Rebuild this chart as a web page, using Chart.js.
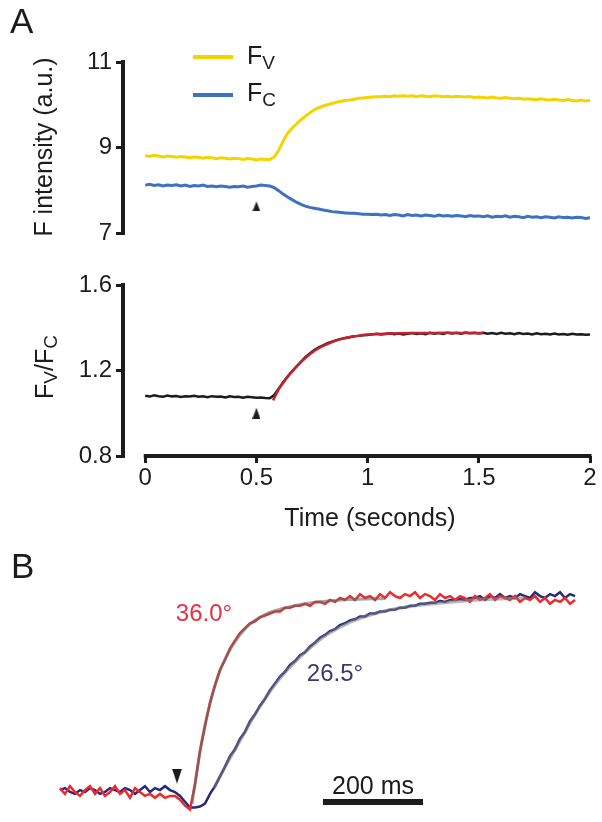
<!DOCTYPE html>
<html><head><meta charset="utf-8">
<script src="https://cdn.jsdelivr.net/npm/chart.js@4.4.0/dist/chart.umd.min.js"></script>
<style>
html,body{margin:0;padding:0;background:#fff;}
#wrap{position:relative;width:602px;height:822px;overflow:hidden;background:#fff;}
canvas{position:absolute;left:0;top:0;}
</style></head>
<body><div id="wrap">
<canvas id="cA1" width="602" height="822"></canvas>
<canvas id="cA2" width="602" height="822"></canvas>
<canvas id="cB" width="602" height="822"></canvas>
</div>
<script>
// ---------- Panel A data (time in seconds) ----------
const timeA = [
 0,0.02,0.04,0.06,0.08,0.1,0.12,0.14,0.16,0.18,
 0.2,0.22,0.24,0.26,0.28,0.3,0.32,0.34,0.36,0.38,
 0.4,0.42,0.44,0.46,0.48,0.5,0.52,0.54,0.56,0.58,
 0.6,0.62,0.64,0.66,0.68,0.7,0.72,0.74,0.76,0.78,
 0.8,0.82,0.84,0.86,0.88,0.9,0.92,0.94,0.96,0.98,
 1,1.02,1.04,1.06,1.08,1.1,1.12,1.14,1.16,1.18,
 1.2,1.22,1.24,1.26,1.28,1.3,1.32,1.34,1.36,1.38,
 1.4,1.42,1.44,1.46,1.48,1.5,1.52,1.54,1.56,1.58,
 1.6,1.62,1.64,1.66,1.68,1.7,1.72,1.74,1.76,1.78,
 1.8,1.82,1.84,1.86,1.88,1.9,1.92,1.94,1.96,1.98,
 2];
const fvValues = [
 8.81,8.79,8.82,8.80,8.78,8.80,8.79,8.77,8.79,8.78,
 8.76,8.78,8.77,8.75,8.77,8.76,8.74,8.76,8.75,8.73,
 8.75,8.74,8.72,8.74,8.73,8.71,8.73,8.72,8.72,8.78,
 8.93,9.15,9.33,9.45,9.55,9.65,9.73,9.81,9.88,9.93,
 9.97,10.00,10.03,10.06,10.08,10.10,10.11,10.13,10.15,10.16,
 10.17,10.18,10.19,10.19,10.20,10.19,10.21,10.20,10.21,10.20,
 10.21,10.19,10.21,10.20,10.19,10.21,10.20,10.19,10.20,10.18,
 10.20,10.19,10.18,10.19,10.17,10.18,10.17,10.16,10.18,10.16,
 10.15,10.17,10.15,10.14,10.15,10.13,10.14,10.13,10.12,10.14,
 10.12,10.11,10.13,10.11,10.10,10.12,10.10,10.09,10.11,10.09,
 10.10];
const fcValues = [
 8.12,8.14,8.11,8.13,8.10,8.12,8.11,8.13,8.10,8.12,
 8.09,8.11,8.10,8.12,8.09,8.10,8.08,8.10,8.09,8.07,
 8.09,8.08,8.10,8.07,8.09,8.10,8.12,8.11,8.10,8.06,
 7.99,7.91,7.84,7.78,7.72,7.67,7.63,7.60,7.58,7.56,
 7.54,7.52,7.50,7.49,7.48,7.47,7.46,7.46,7.45,7.44,
 7.44,7.43,7.44,7.42,7.43,7.41,7.43,7.42,7.40,7.43,
 7.41,7.42,7.40,7.42,7.41,7.39,7.42,7.40,7.41,7.39,
 7.41,7.40,7.38,7.41,7.39,7.40,7.38,7.40,7.37,7.39,
 7.38,7.40,7.37,7.39,7.38,7.36,7.39,7.37,7.38,7.36,
 7.38,7.37,7.35,7.38,7.36,7.37,7.35,7.37,7.36,7.34,
 7.36];
const ratioValues = [
 1.082,1.078,1.084,1.080,1.077,1.083,1.079,1.081,1.076,1.080,
 1.078,1.082,1.077,1.079,1.075,1.080,1.077,1.078,1.074,1.079,
 1.076,1.077,1.073,1.077,1.075,1.072,1.074,1.071,1.070,1.085,
 1.115,1.145,1.172,1.196,1.218,1.240,1.262,1.280,1.296,1.308,
 1.318,1.328,1.335,1.342,1.348,1.352,1.356,1.360,1.362,1.365,
 1.366,1.369,1.372,1.368,1.371,1.374,1.370,1.373,1.369,1.372,
 1.375,1.371,1.374,1.370,1.376,1.372,1.375,1.371,1.377,1.373,
 1.376,1.372,1.378,1.374,1.376,1.373,1.377,1.372,1.375,1.371,
 1.376,1.372,1.374,1.370,1.375,1.371,1.373,1.369,1.374,1.370,
 1.372,1.368,1.373,1.369,1.371,1.367,1.372,1.368,1.370,1.367,
 1.369];
const ratioFitTime = [0.575,0.6,0.62,0.64,0.66,0.68,0.7,0.72,0.74,0.76,0.78,0.8,0.84,0.88,0.92,0.96,1.0,1.05,1.1,1.2,1.3,1.4,1.52];
const ratioFitValues = [1.06,1.112,1.142,1.170,1.195,1.218,1.239,1.258,1.276,1.291,1.304,1.315,1.333,1.347,1.357,1.363,1.368,1.371,1.373,1.375,1.376,1.376,1.376];
const stimTime = 0.5;          // arrowhead position (s)
const arrowTopValue = 7.62;    // arrowhead level, top panel
const arrowBottomValue = 1.0;  // arrowhead level, bottom panel

const xTicksA = [0, 0.5, 1, 1.5, 2];
const xTickLabelsA = ['0', '0.5', '1', '1.5', '2'];
const yTicksTop = [7, 9, 11];
const yTickLabelsTop = ['7', '9', '11'];
const yTicksBottom = [0.8, 1.2, 1.6];
const yTickLabelsBottom = ['0.8', '1.2', '1.6'];

// ---------- Panel B data (time in ms, normalised signal) ----------
const timeB = [
 -230,-220,-210,-200,-190,-180,-170,-160,-150,-140,
 -130,-120,-110,-100,-90,-80,-70,-60,-50,-40,
 -30,-20,-10,0,10,20,30,40,50,60,
 70,80,90,100,110,120,130,140,150,160,
 170,180,190,200,210,220,230,240,250,260,
 270,280,290,300,310,320,330,340,350,360,
 370,380,390,400,410,420,430,440,450,460,
 470,480,490,500,510,520,530,540,550,560,
 570,580,590,600,610,620,630,640,650,660,
 670,680,690,700,710,720,730,740,750,760,
 770,780,790,800];
const red36Values = [
 0.02,-0.01,0.03,0.00,-0.02,0.01,0.03,-0.01,0.02,-0.02,
 0.00,0.03,-0.01,0.01,-0.03,0.02,0.00,-0.02,-0.01,-0.03,
 -0.01,-0.03,-0.02,-0.02,-0.04,-0.07,-0.09,0.04,0.21,0.34,
 0.46,0.55,0.63,0.68,0.74,0.78,0.82,0.845,0.87,0.88,
 0.90,0.91,0.92,0.93,0.93,0.95,0.95,0.96,0.96,0.97,
 0.96,0.98,0.98,0.97,0.99,0.98,1.00,0.99,1.01,0.99,
 1.02,1.00,1.01,0.99,1.02,1.00,1.03,1.01,1.00,1.02,
 1.01,1.03,1.00,1.02,1.01,0.99,1.02,1.00,1.01,0.99,
 1.01,1.00,0.98,1.01,0.99,1.00,1.02,0.99,1.01,1.00,
 0.99,1.01,0.98,1.00,0.99,1.01,0.98,1.00,0.97,0.99,
 0.98,1.00,0.97,0.99];
const navy26Values = [
 0.01,0.02,0.00,-0.01,0.01,0.00,0.02,0.01,-0.01,0.00,
 0.02,0.01,0.00,0.02,0.01,-0.01,0.01,0.03,0.00,0.02,
 0.01,0.03,0.01,0.00,-0.02,-0.05,-0.08,-0.08,-0.075,-0.06,
 -0.01,0.03,0.08,0.13,0.185,0.22,0.275,0.31,0.365,0.40,
 0.445,0.48,0.525,0.56,0.595,0.62,0.655,0.675,0.705,0.72,
 0.75,0.77,0.795,0.81,0.83,0.84,0.86,0.87,0.885,0.89,
 0.905,0.905,0.92,0.92,0.93,0.93,0.94,0.94,0.95,0.95,
 0.96,0.96,0.97,0.97,0.975,0.975,0.985,0.98,0.99,0.99,
 0.995,0.99,1.00,1.00,1.01,0.99,1.01,1.00,1.02,1.00,
 1.01,1.00,1.02,1.01,1.00,1.03,1.01,1.00,1.02,1.01,
 1.03,1.00,1.02,1.01];
const red36FitTime = [34,40,50,60,70,80,90,100,120,140,160,180,200,230,260,300,350,420];
const red36FitValues = [-0.06,0.04,0.21,0.345,0.455,0.55,0.625,0.685,0.775,0.84,0.885,0.915,0.935,0.955,0.97,0.983,0.992,0.998];
const navy26FitTime = [78,90,100,120,140,160,180,200,230,260,300,350,400,450,500,600,700];
const navy26FitValues = [0.02,0.08,0.13,0.22,0.31,0.40,0.48,0.555,0.645,0.72,0.805,0.875,0.92,0.948,0.966,0.99,1.0];
const stimTimeB = 4;          // arrowhead (ms)
const arrowBValue = 0.082;
const scaleBarMs = [296, 496]; // 200 ms scale bar
const scaleBarLevel = -0.052;

// ---------- styling ----------
const FONT = "'Liberation Sans', Arial, Helvetica, sans-serif";
const INK = '#1c1c1c';
const YELLOW = '#f4d400';
const BLUE = '#3c72bf';
const FIT_RED = '#c8202c';
const RED = '#ee2a2c';
const NAVY = '#262a78';

function pts(xs, ys) { return xs.map((x, i) => ({ x: x, y: ys[i] })); }

function triCanvas(w, h, down) {
  const c = document.createElement('canvas'); c.width = w; c.height = h;
  const g = c.getContext('2d'); g.fillStyle = INK; g.beginPath();
  if (down) { g.moveTo(0, 0); g.lineTo(w, 0); g.lineTo(w / 2, h); }
  else { g.moveTo(w / 2, 0); g.lineTo(w, h); g.lineTo(0, h); }
  g.closePath(); g.fill(); return c;
}
const triUpA = triCanvas(8, 10, false);
const triUpA2 = triCanvas(8, 11, false);
const triDownB = triCanvas(10, 15, true);

// rich text: parts [{t, size, dy}]
function richWidth(ctx, parts) {
  let w = 0;
  parts.forEach(p => { ctx.font = p.size + 'px ' + FONT; w += ctx.measureText(p.t).width; });
  return w;
}
function drawRich(ctx, parts, x, y, align) {
  let cx = x;
  if (align === 'center') cx = x - richWidth(ctx, parts) / 2;
  ctx.textAlign = 'left'; ctx.textBaseline = 'alphabetic';
  parts.forEach(p => {
    ctx.font = p.size + 'px ' + FONT;
    ctx.fillText(p.t, cx, y + (p.dy || 0));
    cx += ctx.measureText(p.t).width;
  });
}

const yAxisCommon = {
  type: 'linear',
  afterFit: s => { s.width = 123; },
  ticks: { font: { family: FONT, size: 24 }, color: INK, padding: 4 },
  grid: { drawOnChartArea: false, drawTicks: true, tickLength: 7, lineWidth: 3, color: INK },
  border: { display: true, width: 4, color: INK }
};

// ---------- Panel A top ----------
const topDecor = {
  id: 'topDecor',
  afterDraw(chart) {
    const ctx = chart.ctx; ctx.save();
    ctx.fillStyle = INK;
    ctx.font = '35px ' + FONT; ctx.textAlign = 'left'; ctx.textBaseline = 'alphabetic';
    ctx.fillText('A', 10, 33);
    // legend
    ctx.lineWidth = 4; ctx.lineCap = 'butt';
    ctx.strokeStyle = YELLOW; ctx.beginPath(); ctx.moveTo(193, 57); ctx.lineTo(233, 57); ctx.stroke();
    ctx.strokeStyle = BLUE; ctx.beginPath(); ctx.moveTo(193, 95); ctx.lineTo(233, 95); ctx.stroke();
    ctx.fillStyle = INK;
    drawRich(ctx, [{ t: 'F', size: 25 }, { t: 'V', size: 19, dy: 5 }], 247, 64, 'left');
    drawRich(ctx, [{ t: 'F', size: 25 }, { t: 'C', size: 19, dy: 5 }], 247, 101, 'left');
    // y title
    ctx.translate(52, 147); ctx.rotate(-Math.PI / 2);
    ctx.font = '25px ' + FONT; ctx.textAlign = 'center';
    ctx.fillText('F intensity (a.u.)', 0, 0);
    ctx.restore();
  }
};

new Chart(document.getElementById('cA1'), {
  type: 'line',
  data: {
    datasets: [
      { data: [{ x: stimTime, y: arrowTopValue }], showLine: false, pointStyle: triUpA, pointRadius: 5, order: 0 },
      { label: 'Fc', data: pts(timeA, fcValues), borderColor: BLUE, borderWidth: 3, pointRadius: 0, tension: 0, order: 1 },
      { label: 'Fv', data: pts(timeA, fvValues), borderColor: YELLOW, borderWidth: 3, pointRadius: 0, tension: 0, order: 2 }
    ]
  },
  options: {
    responsive: false, animation: false, events: [],
    layout: { autoPadding: false, padding: { top: 62, right: 12, bottom: 589, left: 0 } },
    plugins: { legend: { display: false }, tooltip: { enabled: false } },
    scales: {
      x: { type: 'linear', display: false, min: -0.1, max: 2 },
      y: Object.assign({}, yAxisCommon, {
        min: 7, max: 11,
        afterBuildTicks: s => { s.ticks = yTicksTop.map(v => ({ value: v })); },
        ticks: Object.assign({}, yAxisCommon.ticks, { callback: v => yTickLabelsTop[yTicksTop.indexOf(v)] })
      })
    }
  },
  plugins: [topDecor]
});

// ---------- Panel A bottom ----------
const bottomDecor = {
  id: 'bottomDecor',
  afterDraw(chart) {
    const ctx = chart.ctx; const x = chart.scales.x; const a = chart.chartArea;
    ctx.save();
    ctx.strokeStyle = INK; ctx.lineWidth = 4; ctx.lineCap = 'butt';
    ctx.beginPath();
    ctx.moveTo(x.getPixelForValue(xTicksA[0]) - 1.5, a.bottom);
    ctx.lineTo(x.getPixelForValue(xTicksA[xTicksA.length - 1]) + 1.5, a.bottom);
    ctx.stroke();
    ctx.fillStyle = INK;
    ctx.font = '25px ' + FONT; ctx.textAlign = 'center'; ctx.textBaseline = 'alphabetic';
    ctx.fillText('Time (seconds)', 370, 526);
    ctx.translate(53, 367); ctx.rotate(-Math.PI / 2);
    drawRich(ctx, [{ t: 'F', size: 25 }, { t: 'V', size: 19, dy: 4 }, { t: '/F', size: 25 }, { t: 'C', size: 19, dy: 4 }], 0, 0, 'center');
    ctx.restore();
  }
};

new Chart(document.getElementById('cA2'), {
  type: 'line',
  data: {
    datasets: [
      { data: [{ x: stimTime, y: arrowBottomValue }], showLine: false, pointStyle: triUpA2, pointRadius: 5, order: 0 },
      { label: 'fit', data: pts(ratioFitTime, ratioFitValues), borderColor: FIT_RED, borderWidth: 2.5, pointRadius: 0, tension: 0.3, order: 1 },
      { label: 'Fv/Fc', data: pts(timeA, ratioValues), borderColor: INK, borderWidth: 2.5, pointRadius: 0, tension: 0, order: 2 }
    ]
  },
  options: {
    responsive: false, animation: false, events: [],
    layout: { autoPadding: false, padding: { top: 285, right: 12, bottom: 0, left: 0 } },
    plugins: { legend: { display: false }, tooltip: { enabled: false } },
    scales: {
      x: {
        type: 'linear', min: -0.1, max: 2,
        afterFit: s => { s.height = 366; },
        afterBuildTicks: s => { s.ticks = xTicksA.map(v => ({ value: v })); },
        ticks: { font: { family: FONT, size: 24 }, color: INK, padding: 1, maxRotation: 0, autoSkip: false,
                 callback: v => xTickLabelsA[xTicksA.indexOf(v)] },
        grid: { drawOnChartArea: false, drawTicks: true, tickLength: 7, lineWidth: 3, color: INK },
        border: { display: false }
      },
      y: Object.assign({}, yAxisCommon, {
        min: 0.8, max: 1.6,
        afterBuildTicks: s => { s.ticks = yTicksBottom.map(v => ({ value: v })); },
        ticks: Object.assign({}, yAxisCommon.ticks, { callback: v => yTickLabelsBottom[yTicksBottom.indexOf(v)] })
      })
    }
  },
  plugins: [bottomDecor]
});

// ---------- Panel B ----------
const bDecor = {
  id: 'bDecor',
  afterDraw(chart) {
    const ctx = chart.ctx; ctx.save();
    ctx.textBaseline = 'alphabetic';
    ctx.fillStyle = INK; ctx.font = '35px ' + FONT; ctx.textAlign = 'left';
    ctx.fillText('B', 11, 578);
    ctx.font = '24px ' + FONT; ctx.textAlign = 'center';
    ctx.fillStyle = '#e83040'; ctx.fillText('36.0°', 204, 621);
    ctx.fillStyle = '#3a3a6c'; ctx.fillText('26.5°', 335, 681);
    ctx.fillStyle = INK; ctx.font = '25px ' + FONT;
    ctx.fillText('200 ms', 373, 794);
    ctx.restore();
  }
};

new Chart(document.getElementById('cB'), {
  type: 'line',
  data: {
    datasets: [
      { data: [{ x: stimTimeB, y: arrowBValue }], showLine: false, pointStyle: triDownB, pointRadius: 7, order: 0 },
      { label: 'scale', data: [{ x: scaleBarMs[0], y: scaleBarLevel }, { x: scaleBarMs[1], y: scaleBarLevel }], borderColor: INK, borderWidth: 6, borderCapStyle: 'butt', pointRadius: 0, order: 1 },
      { label: 'fit36', data: pts(red36FitTime, red36FitValues), borderColor: 'rgba(105,105,105,0.6)', borderWidth: 3, pointRadius: 0, tension: 0.3, order: 2 },
      { label: 'fit26', data: pts(navy26FitTime, navy26FitValues), borderColor: 'rgba(125,125,125,0.55)', borderWidth: 3.5, pointRadius: 0, tension: 0.3, order: 3 },
      { label: '36.0', data: pts(timeB, red36Values), borderColor: RED, borderWidth: 2.5, pointRadius: 0, tension: 0, order: 4 },
      { label: '26.5', data: pts(timeB, navy26Values), borderColor: NAVY, borderWidth: 2.5, pointRadius: 0, tension: 0, order: 5 }
    ]
  },
  options: {
    responsive: false, animation: false, events: [],
    layout: { autoPadding: false, padding: 0 },
    plugins: { legend: { display: false }, tooltip: { enabled: false } },
    scales: {
      x: { type: 'linear', display: false, min: -350, max: 854 },
      y: { type: 'linear', display: false, min: -0.1546, max: 4.0825 }
    }
  },
  plugins: [bDecor]
});
</script>
</body></html>
